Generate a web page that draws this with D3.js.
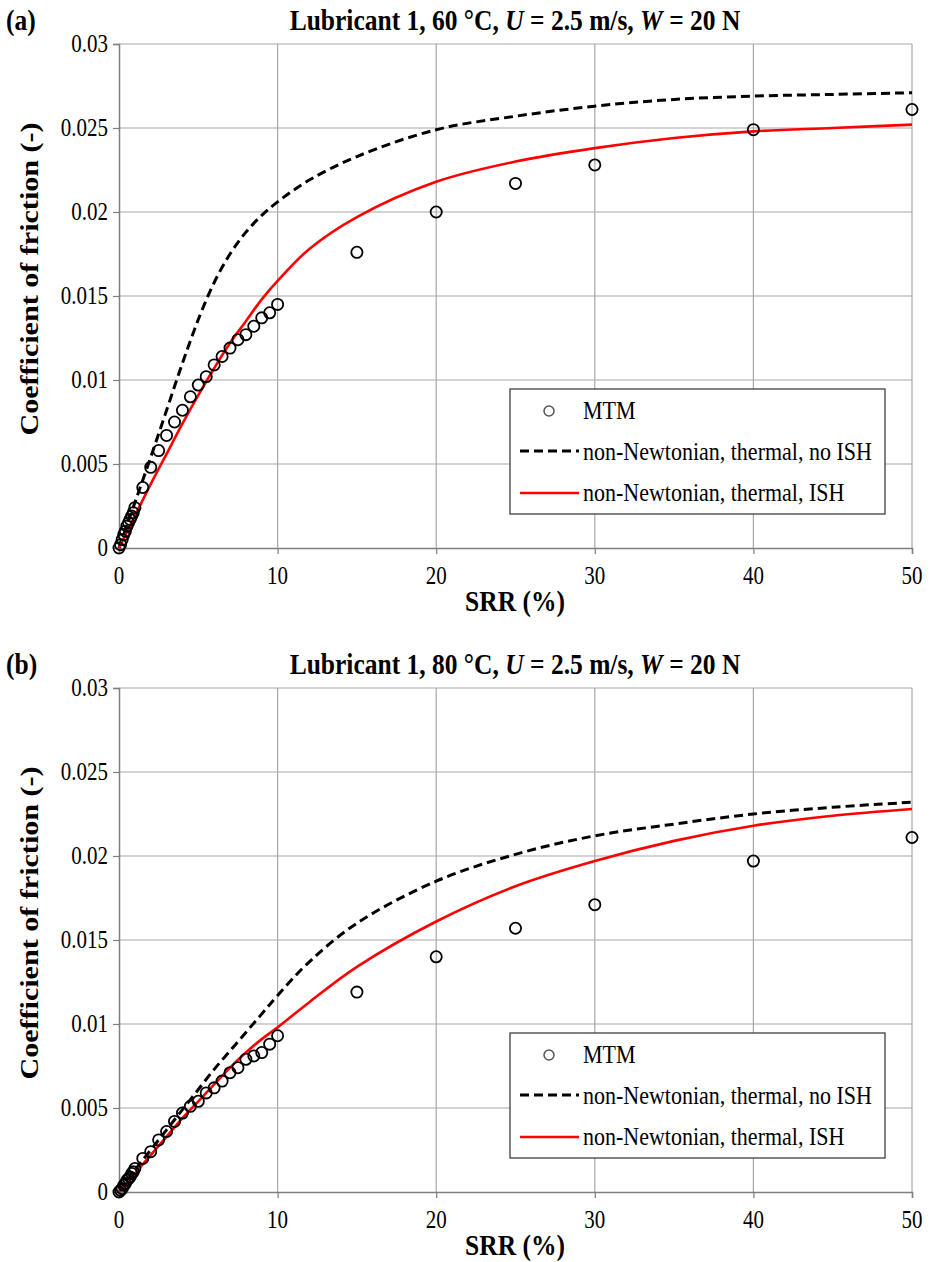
<!DOCTYPE html>
<html>
<head>
<meta charset="utf-8">
<script src="https://cdn.jsdelivr.net/npm/d3@7"></script>
<style>
  html, body { margin: 0; padding: 0; background: #fff; }
  svg { display: block; }
  text { font-family: "Liberation Serif", "Times New Roman", serif; fill: #000; }
</style>
</head>
<body>
<svg id="chart" width="933" height="1262"></svg>
<script>
// ---------------- DATA ----------------
const mtmSrr = [0, 0.1, 0.2, 0.3, 0.4, 0.5, 0.6, 0.7, 0.8, 0.9, 1.0,
  1.5, 2, 2.5, 3, 3.5, 4, 4.5, 5, 5.5, 6, 6.5, 7, 7.5, 8, 8.5, 9, 9.5, 10,
  15, 20, 25, 30, 40, 50];
const mtmA = [0, 0.0002, 0.0005, 0.0008, 0.0010, 0.0013, 0.0015, 0.0017, 0.0019, 0.0021, 0.0024,
  0.0036, 0.0048, 0.0058, 0.0067, 0.0075, 0.0082, 0.0090, 0.0097, 0.0102, 0.0109, 0.0114, 0.0119, 0.0124, 0.0127, 0.0132, 0.0137, 0.0140, 0.0145,
  0.0176, 0.0200, 0.0217, 0.0228, 0.0249, 0.0261];
const mtmB = [0, 0.0001, 0.0002, 0.0004, 0.0005, 0.0007, 0.0008, 0.0009, 0.0011, 0.0012, 0.0014,
  0.0020, 0.0024, 0.0031, 0.0036, 0.0042, 0.0047, 0.0051, 0.0054, 0.0059, 0.0062, 0.0066, 0.0071, 0.0074, 0.0079, 0.0081, 0.0083, 0.0088, 0.0093,
  0.0119, 0.0140, 0.0157, 0.0171, 0.0197, 0.0211];

const modelSrr = [0, 1, 2, 3, 4, 5, 6, 7, 8, 9, 10, 12, 15, 20, 25, 30, 35, 40, 45, 50];
const noIshA = [0, 0.0027, 0.0054, 0.0082, 0.0110, 0.0136, 0.0158, 0.0175, 0.0188, 0.0198, 0.0206,
  0.0219, 0.0233, 0.0249, 0.0257, 0.0263, 0.0267, 0.0269, 0.0270, 0.0271];
const ishA = [0, 0.0019, 0.0038, 0.0056, 0.0074, 0.0091, 0.0107, 0.0122, 0.0135, 0.0148, 0.0159,
  0.0178, 0.0197, 0.0218, 0.0230, 0.0238, 0.0244, 0.0248, 0.0250, 0.0252];
const noIshB = [0, 0.0013, 0.0025, 0.0037, 0.0049, 0.0061, 0.0073, 0.0084, 0.0095, 0.0106, 0.0117,
  0.0137, 0.0160, 0.0185, 0.0201, 0.0212, 0.0219, 0.0225, 0.0229, 0.0232];
const ishB = [0, 0.0011, 0.0022, 0.0033, 0.0044, 0.0054, 0.0064, 0.0074, 0.0083, 0.0091, 0.0098,
  0.0113, 0.0134, 0.0161, 0.0182, 0.0197, 0.0209, 0.0218, 0.0224, 0.0228];

const xTicks = [0, 10, 20, 30, 40, 50];
const yTicks = [0, 0.005, 0.01, 0.015, 0.02, 0.025, 0.03];
const yTickLabels = ["0", "0.005", "0.01", "0.015", "0.02", "0.025", "0.03"];
const legendLabels = ["MTM", "non-Newtonian, thermal, no ISH", "non-Newtonian, thermal, ISH"];
const panels = [
  { tag: "(a)", temp: "60 °C", mtm: mtmA, noIsh: noIshA, ish: ishA },
  { tag: "(b)", temp: "80 °C", mtm: mtmB, noIsh: noIshB, ish: ishB }
];

// ---------------- DRAW ----------------
const svg = d3.select("#chart");
const X0 = 119, X1 = 912;
const tops = [44, 688];
const H = 504;
const K = 1.18; // vertical stretch of glyphs seen in the reference

// text helper: baseline at (x,y), glyphs stretched vertically
function stext(parent, x, y, size, anchor, bold) {
  return parent.append("g").attr("transform", `translate(${x},${y}) scale(1,${K})`)
    .append("text").attr("x", 0).attr("y", 0).attr("font-size", size)
    .attr("text-anchor", anchor).attr("font-weight", bold ? "bold" : "normal");
}

panels.forEach((p, i) => {
  const top = tops[i];
  const g = svg.append("g");
  const x = d3.scaleLinear().domain([0, 50]).range([X0, X1]);
  const y = d3.scaleLinear().domain([0, 0.03]).range([top + H, top]);

  // gridlines
  g.append("g").selectAll("line").data(yTicks.slice(1)).join("line")
    .attr("x1", X0).attr("x2", X1).attr("y1", d => y(d)).attr("y2", d => y(d))
    .attr("stroke", "#a8a8a8").attr("stroke-width", 1.2);
  g.append("g").selectAll("line").data(xTicks.slice(1)).join("line")
    .attr("x1", d => x(d)).attr("x2", d => x(d)).attr("y1", top).attr("y2", top + H)
    .attr("stroke", "#a8a8a8").attr("stroke-width", 1.2);

  // axes (lines and ticks via d3-axis; labels drawn stretched below)
  const yAxis = d3.axisLeft(y).tickValues(yTicks).tickFormat("").tickSize(6);
  const ya = g.append("g").attr("transform", `translate(${X0},0)`).call(yAxis);
  const xAxis = d3.axisBottom(x).tickValues(xTicks).tickFormat("").tickSize(6);
  const xa = g.append("g").attr("transform", `translate(0,${top + H})`).call(xAxis);
  [ya, xa].forEach(a => {
    a.select(".domain").attr("stroke", "#7f7f7f").attr("stroke-width", 1.5);
    a.selectAll(".tick line").attr("stroke", "#7f7f7f").attr("stroke-width", 1.2);
  });
  yTicks.forEach((v, k) => {
    stext(g, X0 - 11, y(v) + 8.3, 21, "end", false).text(yTickLabels[k]);
  });
  xTicks.forEach(v => {
    stext(g, x(v), top + H + 36, 21, "middle", false).text(d3.format("d")(v));
  });

  // curves
  const line = d3.line().x(d => x(d[0])).y(d => y(d[1])).curve(d3.curveCatmullRom.alpha(0.5));
  g.append("path").datum(modelSrr.map((s, k) => [s, p.noIsh[k]]))
    .attr("d", line).attr("fill", "none").attr("stroke", "#000").attr("stroke-width", 3)
    .attr("stroke-dasharray", "9,5");
  g.append("path").datum(modelSrr.map((s, k) => [s, p.ish[k]]))
    .attr("d", line).attr("fill", "none").attr("stroke", "#ff0000").attr("stroke-width", 2.6);

  // MTM points
  g.append("g").selectAll("circle").data(mtmSrr.map((s, k) => [s, p.mtm[k]])).join("circle")
    .attr("cx", d => x(d[0])).attr("cy", d => y(d[1])).attr("r", 5.6)
    .attr("fill", "none").attr("stroke", "#000").attr("stroke-width", 1.8);

  // title
  const t = stext(g, 515, top - 14, 25.5, "middle", true);
  t.append("tspan").text(`Lubricant 1, ${p.temp}, `);
  t.append("tspan").attr("font-style", "italic").text("U");
  t.append("tspan").text(" = 2.5 m/s, ");
  t.append("tspan").attr("font-style", "italic").text("W");
  t.append("tspan").text(" = 20 N");

  stext(g, 6, top - 14, 25.5, "start", true).text(p.tag);

  // axis titles
  stext(g, 515, top + H + 63, 25.5, "middle", true).text("SRR (%)");
  g.append("g").attr("transform", `translate(38,${top + H / 2 - 17}) scale(1,${K}) rotate(-90)`)
    .append("text").attr("text-anchor", "middle").attr("font-size", 25.5).attr("font-weight", "bold")
    .text("Coefficient of friction (-)");

  // legend
  const lx = 510, ly = top + 345;
  const lg = g.append("g");
  lg.append("rect").attr("x", lx).attr("y", ly).attr("width", 375).attr("height", 125)
    .attr("fill", "#fff").attr("stroke", "#404040").attr("stroke-width", 1.3);
  lg.append("circle").attr("cx", lx + 39).attr("cy", ly + 22).attr("r", 5)
    .attr("fill", "none").attr("stroke", "#555").attr("stroke-width", 1.5);
  lg.append("line").attr("x1", lx + 10).attr("x2", lx + 69).attr("y1", ly + 62).attr("y2", ly + 62)
    .attr("stroke", "#000").attr("stroke-width", 3).attr("stroke-dasharray", "9,5");
  lg.append("line").attr("x1", lx + 10).attr("x2", lx + 69).attr("y1", ly + 104).attr("y2", ly + 104)
    .attr("stroke", "#ff0000").attr("stroke-width", 2.6);
  legendLabels.forEach((lab, k) => {
    stext(lg, lx + 73, ly + 30 + k * 41, 22, "start", false).text(lab);
  });
});
</script>
</body>
</html>
